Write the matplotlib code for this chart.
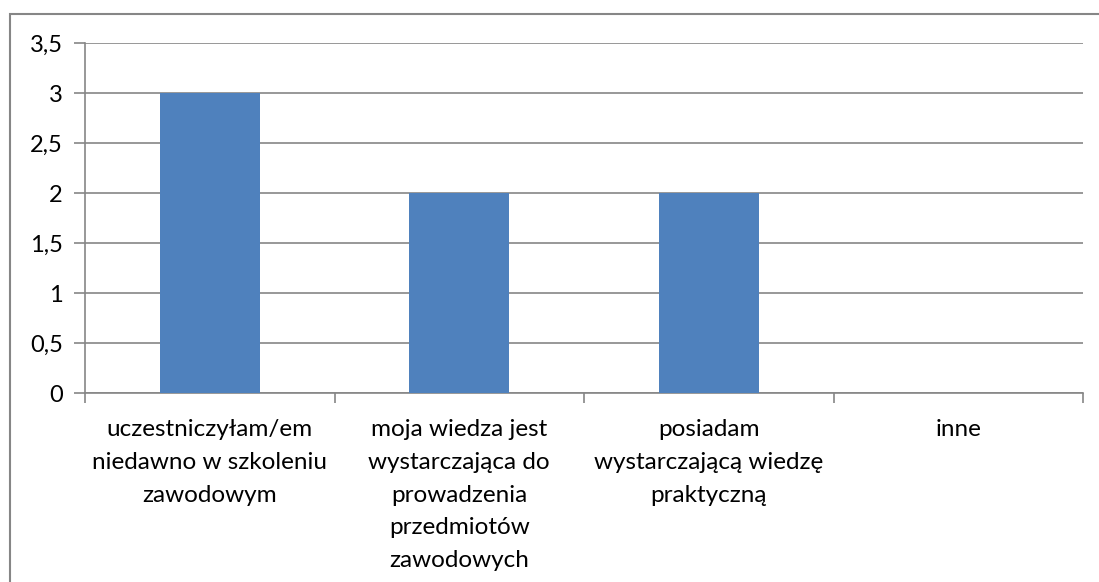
import matplotlib
matplotlib.use("Agg")
import matplotlib.pyplot as plt
from matplotlib.patches import Rectangle
import numpy as np

categories = [
    "uczestniczyłam/em\nniedawno w szkoleniu\nzawodowym",
    "moja wiedza jest\nwystarczająca do\nprowadzenia\nprzedmiotów\nzawodowych",
    "posiadam\nwystarczającą wiedzę\npraktyczną",
    "inne",
]
values = [3, 2, 2, 0]
yticks = [0, 0.5, 1, 1.5, 2, 2.5, 3, 3.5]
ytick_labels = ["0", "0,5", "1", "1,5", "2", "2,5", "3", "3,5"]

W, H = 1099, 582
fig = plt.figure(figsize=(W / 100, H / 100), dpi=100)
plt.rcParams['font.family'] = ['Lato', 'DejaVu Sans']

grey = "#868686"

# outer chart border
fig.patches.append(Rectangle((10 / W, 0 - 0.01), 1.1, (H - 14) / H + 0.01,
                             transform=fig.transFigure, fill=False,
                             edgecolor=grey, linewidth=1.5))

ax = fig.add_axes([85 / W, (H - 393) / H, (1083 - 85) / W, (393 - 43) / H])
x = np.arange(len(categories))
ax.bar(x, values, width=0.4, color="#4F81BD", zorder=3)
ax.set_xlim(-0.5, len(categories) - 0.5)
ax.set_ylim(0, 3.5)
ax.set_yticks(yticks)
ax.set_yticklabels(ytick_labels, fontsize=17)
ax.yaxis.grid(True, color=grey, linewidth=1.2, zorder=0)
ax.set_axisbelow(True)

ax.set_xticks(x)
ax.set_xticklabels(categories, fontsize=17.5, linespacing=1.68, va="top")
ax.tick_params(axis="x", which="major", length=0, pad=19)
ax.set_xticks(np.arange(-0.5, len(categories), 1.0), minor=True)
ax.tick_params(axis="x", which="minor", length=7, width=1.2, color=grey, direction="out")
ax.tick_params(axis="y", length=8, width=1.2, color=grey, direction="out", pad=8)

for s in ["top", "right"]:
    ax.spines[s].set_visible(False)
for s in ["left", "bottom"]:
    ax.spines[s].set_color(grey)
    ax.spines[s].set_linewidth(1.2)

fig.savefig("out.png", dpi=100)
